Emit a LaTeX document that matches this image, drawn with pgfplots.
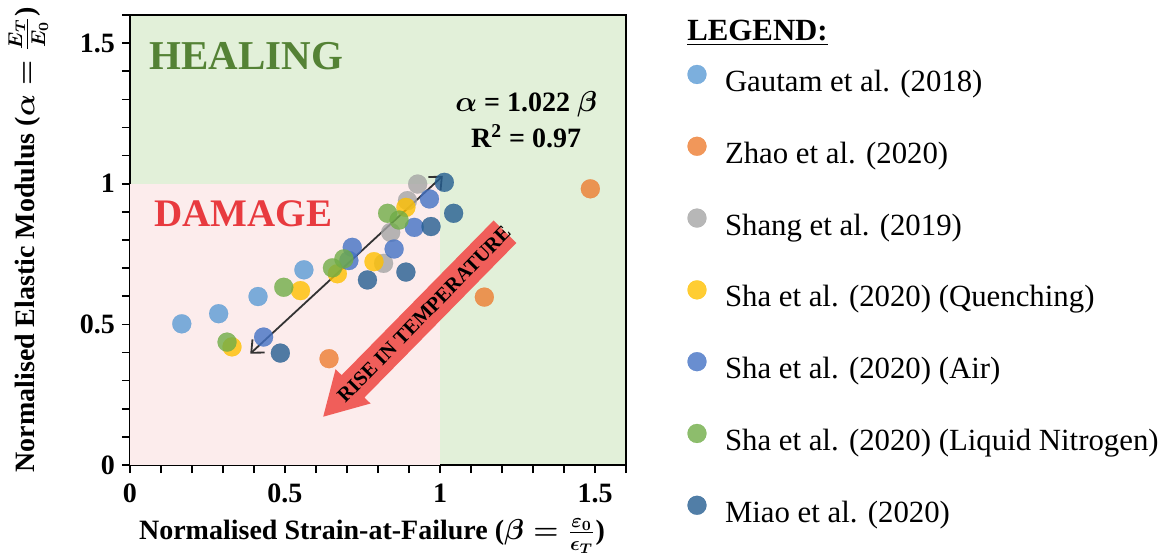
\documentclass[border=0pt]{standalone}
\usepackage{amsmath}
\usepackage{fontspec}
\setmainfont{Liberation Serif}
\usepackage{pgfplots}
\pgfplotsset{compat=1.18}
\usetikzlibrary{arrows.meta}
\definecolor{cGautam}{HTML}{5B9BD5}
\definecolor{cZhao}{HTML}{ED7D31}
\definecolor{cShang}{HTML}{A5A5A5}
\definecolor{cQuench}{HTML}{FFC000}
\definecolor{cAir}{HTML}{4472C4}
\definecolor{cLN}{HTML}{70AD47}
\definecolor{cMiao}{HTML}{255E91}
\definecolor{bgGreen}{HTML}{E2F0D9}
\definecolor{bgPink}{HTML}{FCECEC}
\definecolor{healGreen}{HTML}{548235}
\definecolor{dmgRed}{HTML}{E83A3F}
\definecolor{arrRed}{HTML}{F05E5A}
\pgfplotsset{
  pt/.style={only marks, mark=*, mark size=4.75pt,
    mark options={draw=#1, fill=#1, opacity=0.8, line width=0.1pt},
    legend image code/.code={\draw[##1] plot coordinates {(0pt,5pt)};}},
}
\begin{document}
\begin{tikzpicture}
\useasboundingbox (-65pt,-44.5pt) rectangle (515.5pt,232.5pt);
\begin{axis}[
  at={(0pt,0pt)}, anchor=south west,
  scale only axis, width=248pt, height=225pt,
  xmin=0, xmax=1.6, ymin=0, ymax=1.6,
  xtick={0,0.5,1,1.5}, ytick={0,0.5,1,1.5},
  minor xtick={0.1,0.2,0.3,0.4,0.6,0.7,0.8,0.9,1.1,1.2,1.3,1.4,1.6},
  minor ytick={0.1,0.2,0.3,0.4,0.6,0.7,0.8,0.9,1.1,1.2,1.3,1.4,1.6},
  tick align=outside, tick pos=left,
  major tick length=4pt, minor tick length=4pt,
  every tick/.style={black, line width=0.8pt},
  axis line style={line width=0.9pt, black},
  /pgf/number format/assume math mode=true,
  ticklabel style={font=\fontsize{14}{16}\selectfont\bfseries},
  xticklabel style={yshift=-2pt},
  axis background/.style={fill=bgGreen},
  label style={font=\fontsize{14}{16}\selectfont\bfseries\boldmath},
  xlabel={Normalised Strain-at-Failure ($\beta = \frac{\varepsilon_0}{\epsilon_T}$)},
  ylabel={Normalised Elastic Modulus ($\alpha = \frac{E_T}{E_0}$)},
  xlabel style={at={(axis description cs:0.488,-0.166)}, anchor=base},
  ylabel style={at={(axis description cs:-0.205,0.5)}, anchor=center},
  legend style={at={(axis description cs:1.124,0.889)}, anchor=north west,
    draw=none, fill=none, inner sep=0pt, outer sep=0pt,
    font=\fontsize{15.4}{18}\selectfont, row sep=18.65pt, column sep=9.25pt,
    nodes={inner sep=0pt, text height=11pt, text depth=4pt}},
  legend cell align=left,
]
\fill[bgPink] (axis cs:0,0) rectangle (axis cs:1,1);
\node[font=\fontsize{20.5}{22}\selectfont\bfseries, text=healGreen] at (axis cs:0.375,1.454) {HEALING};
\node[font=\fontsize{19.5}{22}\selectfont\bfseries, text=dmgRed] at (axis cs:0.366,0.894) {DAMAGE};
\node[font=\fontsize{14}{16}\selectfont\bfseries\boldmath] at (axis cs:1.278,1.284) {$\alpha$ = 1.022 $\beta$};
\node[font=\fontsize{14}{16}\selectfont\bfseries] at (axis cs:1.278,1.17) {R\textsuperscript{2} = 0.97};

\addplot[pt=cGautam] coordinates {(0.167,0.502)(0.286,0.538)(0.413,0.599)(0.561,0.694)};
\addlegendentry{Gautam et al. (2018)}
\addplot[pt=cZhao] coordinates {(0.642,0.378)(1.143,0.597)(1.485,0.982)};
\addlegendentry{Zhao et al. (2020)}
\addplot[pt=cShang] coordinates {(0.818,0.717)(0.841,0.827)(0.895,0.940)(0.928,0.999)};
\addlegendentry{Shang et al. (2019)}
\addplot[pt=cQuench] coordinates {(0.329,0.420)(0.550,0.620)(0.669,0.680)(0.787,0.723)(0.890,0.916)};
\addlegendentry{Sha et al. (2020) (Quenching)}
\addplot[pt=cAir] coordinates {(0.431,0.455)(0.706,0.727)(0.717,0.774)(0.852,0.768)(0.917,0.845)(0.966,0.946)};
\addlegendentry{Sha et al. (2020) (Air)}
\addplot[pt=cLN] coordinates {(0.313,0.437)(0.496,0.632)(0.653,0.701)(0.690,0.733)(0.831,0.895)(0.868,0.871)};
\addlegendentry{Sha et al. (2020) (Liquid Nitrogen)}
\addplot[pt=cMiao] coordinates {(0.485,0.398)(0.766,0.658)(0.890,0.686)(0.971,0.848)(1.014,1.005)(1.044,0.895)};
\addlegendentry{Miao et al. (2020)}

\draw[{Straight Barb[length=5pt,width=9pt]}-{Straight Barb[length=5pt,width=9pt]}, line width=0.9pt, black!80]
  (axis cs:0.388,0.396) -- (axis cs:1.009,1.028);
\end{axis}
\begin{scope}[shift={(187.5pt,116.65pt)}, rotate=225.5]
\fill[arrRed] (0pt,-8pt) -- (108.4pt,-8pt) -- (108.4pt,-12.25pt) -- (129.7pt,0pt)
  -- (108.4pt,12.25pt) -- (108.4pt,8pt) -- (0pt,8pt) -- cycle;
\end{scope}
\node[rotate=45.5, font=\fontsize{10.2}{12}\selectfont\bfseries, inner sep=0pt] at (147pt,75.4pt) {RISE IN TEMPERATURE};
\node[anchor=base west, inner sep=0pt, font=\fontsize{15.4}{18}\selectfont\bfseries] at (278.5pt,212.5pt) {\underline{LEGEND:}};
\end{tikzpicture}
\end{document}
